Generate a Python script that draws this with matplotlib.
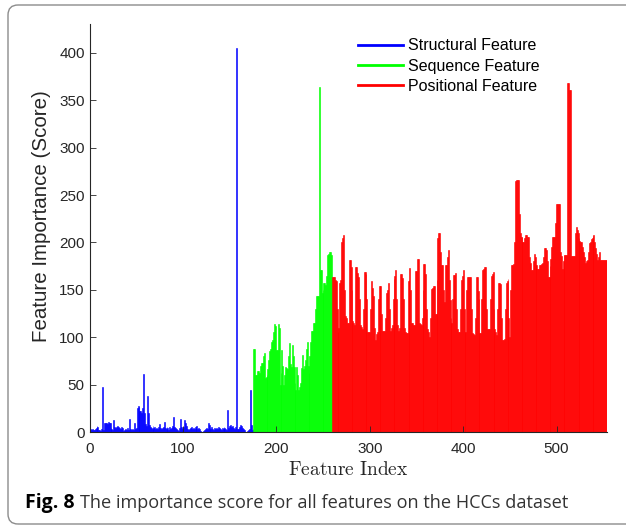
import matplotlib
matplotlib.use("Agg")
import matplotlib.pyplot as plt
from matplotlib.lines import Line2D
from matplotlib.patches import FancyBboxPatch
from matplotlib.transforms import IdentityTransform

# importance scores, one value per feature (index 1..553)
structural = [
    3, 2, 3, 2, 2, 3, 4, 6, 5, 2,
    2, 1, 3, 48, 2, 10, 9, 10, 8, 11,
    9, 10, 4, 3, 2, 13, 5, 4, 5, 6,
    5, 4, 3, 5, 4, 1, 2, 1, 3, 2,
    4, 2, 14, 3, 2, 3, 2, 10, 3, 4,
    25, 27, 26, 22, 22, 20, 25, 61, 20, 8,
    6, 38, 20, 7, 5, 4, 3, 6, 4, 5,
    3, 4, 3, 5, 8, 4, 3, 4, 5, 11,
    4, 3, 5, 4, 2, 5, 3, 4, 6, 16,
    5, 4, 3, 2, 1, 4, 14, 5, 4, 3,
    5, 13, 9, 6, 3, 2, 3, 4, 5, 3,
    4, 3, 5, 4, 6, 3, 4, 3, 1, 0,
    0, 1, 2, 3, 4, 3, 10, 7, 4, 3,
    5, 3, 2, 4, 3, 4, 3, 5, 4, 3,
    2, 4, 3, 5, 4, 3, 2, 23, 4, 6,
    7, 5, 6, 4, 3, 5, 405, 3, 2, 3,
    5, 7, 6, 4, 3, 2, 0, 0, 1, 2,
    3, 44, 7, 2, 3,
]
sequence = [
    88, 88, 60, 60, 64, 64, 62, 70, 73, 73,
    80, 83, 57, 58, 60, 66, 76, 85, 88, 95,
    97, 105, 114, 112, 87, 86, 114, 110, 50, 62,
    87, 70, 50, 60, 69, 68, 67, 80, 94, 72,
    69, 92, 80, 69, 52, 44, 69, 60, 44, 48,
    52, 68, 81, 67, 70, 76, 88, 95, 70, 62,
    80, 95, 107, 107, 115, 115, 130, 143, 143, 143,
    364, 171, 171, 147, 150, 157, 157, 155, 165, 187,
    188, 190, 190, 187,
]
positional = [
    164, 164, 164, 160, 159, 130, 106, 110, 157, 160,
    201, 205, 208, 150, 122, 120, 115, 115, 181, 181,
    174, 150, 117, 115, 113, 174, 174, 168, 164, 140,
    113, 111, 109, 130, 169, 169, 167, 140, 105, 105,
    105, 130, 159, 152, 144, 110, 97, 103, 105, 140,
    154, 154, 154, 125, 107, 107, 107, 120, 147, 150,
    157, 130, 107, 110, 113, 140, 161, 165, 171, 140,
    113, 107, 110, 167, 167, 162, 140, 110, 105, 104,
    104, 159, 160, 173, 150, 115, 115, 113, 113, 170,
    170, 183, 183, 115, 114, 113, 120, 150, 177, 177,
    167, 130, 109, 105, 100, 120, 151, 152, 154, 154,
    125, 125, 160, 205, 210, 210, 190, 176, 176, 150,
    137, 176, 176, 185, 192, 160, 139, 120, 115, 140,
    166, 166, 168, 130, 109, 106, 106, 130, 160, 165,
    171, 130, 106, 106, 150, 164, 164, 164, 164, 130,
    104, 103, 102, 120, 164, 164, 149, 140, 104, 104,
    140, 171, 172, 174, 174, 130, 109, 109, 109, 140,
    165, 167, 169, 130, 109, 105, 102, 130, 157, 157,
    156, 120, 97, 97, 98, 130, 157, 159, 161, 120,
    100, 150, 176, 176, 177, 200, 265, 266, 266, 266,
    230, 210, 206, 206, 201, 201, 205, 208, 208, 206,
    206, 185, 178, 171, 171, 180, 188, 185, 176, 176,
    172, 172, 176, 176, 177, 178, 185, 194, 194, 192,
    180, 164, 164, 175, 183, 195, 206, 206, 206, 220,
    241, 241, 241, 241, 190, 186, 172, 180, 187, 187,
    187, 187, 368, 368, 361, 361, 186, 186, 186, 186,
    210, 216, 213, 210, 205, 202, 201, 201, 195, 190,
    185, 178, 180, 181, 190, 199, 200, 204, 205, 207,
    208, 200, 194, 188, 181, 185, 190, 182, 182, 182,
    182, 182, 182, 182,
]

group_names = ['Structural Feature', 'Sequence Feature', 'Positional Feature']
group_colors = ['#0000ff', '#00ff00', '#ff0000']
x_ticks = [0, 100, 200, 300, 400, 500]
y_ticks = [0, 50, 100, 150, 200, 250, 300, 350, 400]
caption_bold = 'Fig. 8'
caption_rest = 'The importance score for all features on the HCCs dataset'

plt.rcParams['mathtext.fontset'] = 'cm'
sans = 'Liberation Sans'
ink = '#262626'

W, H = 626, 526
fig = plt.figure(figsize=(W / 100, H / 100), dpi=100)

# rounded panel frame (right side runs off the image)
frame = FancyBboxPatch((8, 2), 700, 519, boxstyle='round,pad=0,rounding_size=10',
                       transform=IdentityTransform(), facecolor='none',
                       edgecolor='#8c8c8c', linewidth=1.0)
fig.patches.append(frame)

ax = fig.add_axes([89.5 / W, 94 / H, (607 - 89.5) / W, 408 / H])

start = 1
for vals, col in zip([structural, sequence, positional], group_colors):
    idx = list(range(start, start + len(vals)))
    ax.bar(idx, vals, width=1.0, color=col, edgecolor=col, linewidth=0.4)
    start += len(vals)

ax.set_xlim(0, 554)
ax.set_ylim(0, 430.5)
ax.set_xticks(x_ticks)
ax.set_yticks(y_ticks)
for s in ['top', 'right']:
    ax.spines[s].set_visible(False)
for s in ['left', 'bottom']:
    ax.spines[s].set_color(ink)
    ax.spines[s].set_linewidth(0.8)
ax.tick_params(direction='in', length=4, width=0.6, color=ink,
               labelcolor=ink, labelsize=11)
for lab in ax.get_xticklabels() + ax.get_yticklabels():
    lab.set_family(sans)
ax.tick_params(axis='x', pad=7)

ax.set_ylabel('Feature Importance (Score)', fontsize=14.8, family=sans, color=ink)
ax.yaxis.label.set_verticalalignment('center')
ax.yaxis.set_label_coords(-0.092, 0.53)
ax.set_xlabel(r'$\mathrm{Feature\ Index}$', fontsize=14, color=ink)
ax.xaxis.label.set_verticalalignment('center')
ax.xaxis.set_label_coords(0.5, -0.093)

handles = [Line2D([0], [0], color=c, lw=2) for c in group_colors]
ax.legend(handles, group_names, loc='upper left', frameon=False,
          bbox_to_anchor=(358 / W, 1 - 38.5 / H), bbox_transform=fig.transFigure,
          borderpad=0, borderaxespad=0, handlelength=2.8, handletextpad=0.35,
          labelspacing=0.32, prop={'family': sans, 'size': 11.5})

# caption below the plot
t1 = fig.text(25, 18, caption_bold, transform=IdentityTransform(), family='Open Sans',
              weight='bold', size=14, color='black', va='baseline')
fig.canvas.draw()
bb = t1.get_window_extent()
fig.text(bb.x1 + 5, 18, caption_rest, transform=IdentityTransform(), family='Open Sans',
         size=13.1, color='#333333', va='baseline')

fig.savefig('out.png', dpi=100)
